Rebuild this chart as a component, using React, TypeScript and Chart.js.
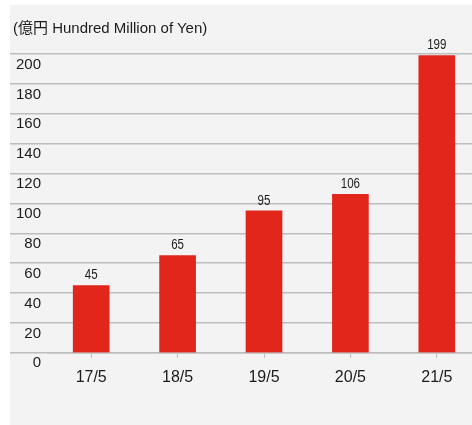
import React, { useEffect, useRef } from "react";
import { Chart, registerables } from "chart.js";

Chart.register(...registerables);

const categories = ["17/5", "18/5", "19/5", "20/5", "21/5"];
const values = [45, 65, 95, 106, 199];
const yMin = 0;
const yMax = 200;
const yStep = 20;
const titleText = "(億円 Hundred Million of Yen)";

const GRID = "#bdbdbd";
const BAR = "#e2261c";
const TEXT = "#1c1c1c";

const valueLabels = {
  id: "valueLabels",
  afterDatasetsDraw(chart: any) {
    const ctx = chart.ctx;
    const meta = chart.getDatasetMeta(0);
    meta.data.forEach((bar: any, i: number) => {
      ctx.save();
      ctx.font = "15px 'Liberation Sans', Arial, sans-serif";
      ctx.fillStyle = TEXT;
      ctx.textAlign = "center";
      ctx.textBaseline = "middle";
      ctx.translate(bar.x, bar.y - 10.5);
      ctx.scale(0.77, 1);
      ctx.fillText(String(chart.data.datasets[0].data[i]), 0, 0);
      ctx.restore();
    });
  },
};

export default function App() {
  const ref = useRef<HTMLCanvasElement | null>(null);
  useEffect(() => {
    if (!ref.current) return;
    const chart = new Chart(ref.current, {
      type: "bar",
      data: {
        labels: categories,
        datasets: [
          {
            data: values,
            backgroundColor: BAR,
            borderWidth: 0,
            barThickness: 36,
          },
        ],
      },
      options: {
        animation: false,
        responsive: false,
        devicePixelRatio: 1,
        layout: { padding: { left: 0, right: 0, top: 49, bottom: 28 } },
        plugins: {
          legend: { display: false },
          tooltip: { enabled: false },
          title: { display: false },
        },
        scales: {
          x: {
            offset: true,
            grid: {
              offset: false,
              drawOnChartArea: false,
              drawTicks: true,
              tickLength: 5,
              color: GRID,
              tickColor: GRID,
            },
            border: { display: true, color: GRID, width: 1.5 },
            ticks: {
              color: TEXT,
              padding: 10,
              font: { family: "'Liberation Sans', Arial, sans-serif", size: 16 },
            },
          },
          y: {
            min: yMin,
            max: yMax,
            afterFit(scale: any) {
              scale.width = 38;
            },
            grid: {
              color: GRID,
              tickColor: GRID,
              lineWidth: 1.5,
              drawTicks: true,
              tickLength: 38,
            },
            border: { display: false },
            ticks: {
              stepSize: yStep,
              color: TEXT,
              padding: -31,
              labelOffset: 10.5,
              font: { family: "'Liberation Sans', Arial, sans-serif", size: 15 },
            },
          },
        },
      },
      plugins: [valueLabels],
    });
    return () => chart.destroy();
  }, []);

  return (
    <div style={{ position: "absolute", left: 0, top: 0, width: 472, height: 425, background: "#ffffff" }}>
      <div
        style={{
          position: "absolute",
          left: 10,
          top: 5,
          width: 462,
          height: 420,
          background: "#f3f3f3",
          overflow: "hidden",
        }}
      >
        <canvas ref={ref} width={470} height={420} style={{ display: "block", position: "absolute", left: 0, top: 0 }} />
        <div
          style={{
            position: "absolute",
            left: 3,
            top: 14,
            fontFamily: "'Liberation Sans', Arial, 'Noto Sans CJK JP', sans-serif",
            fontSize: 15,
            lineHeight: "18px",
            color: TEXT,
            whiteSpace: "nowrap",
          }}
        >
          {titleText}
        </div>
      </div>
    </div>
  );
}
